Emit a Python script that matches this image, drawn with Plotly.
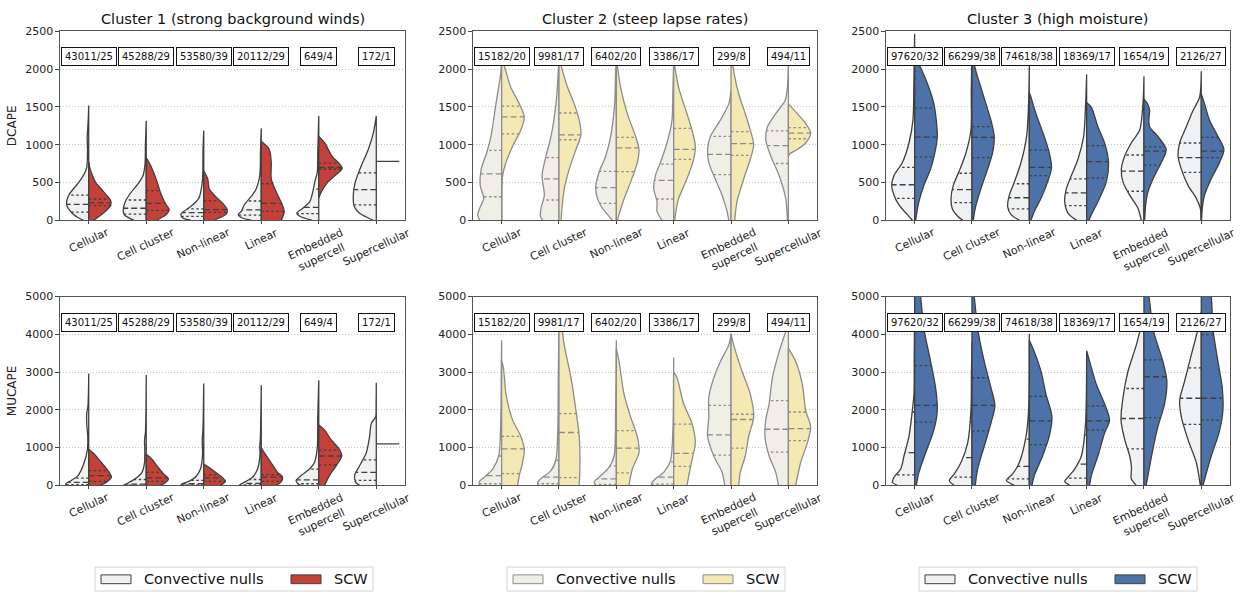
import plotly.graph_objects as go
import numpy as np

# ---------------- data ----------------
categories = ["Cellular", "Cell cluster", "Non-linear", "Linear", "Embedded<br>supercell", "Supercellular"]
titles = ["Cluster 1 (strong background winds)", "Cluster 2 (steep lapse rates)", "Cluster 3 (high moisture)"]
row_labels = ["DCAPE", "MUCAPE"]
legend_labels = ["Convective nulls", "SCW"]

counts_c1 = ["43011/25", "45288/29", "53580/39", "20112/29", "649/4", "172/1"]
counts_c2 = ["15182/20", "9981/17", "6402/20", "3386/17", "299/8", "494/11"]
counts_c3 = ["97620/32", "66299/38", "74618/38", "18369/17", "1654/19", "2126/27"]

# density profiles: (value, relative half-width, 23 = full half width)
dcape_c1_null = [
    [(0,5),(30,10),(100,17),(200,22),(330,20),(500,10),(600,5),(700,2),(900,1.2),(1100,1.5),(1300,0.6),(1520,0)],
    [(0,12),(22,16),(74,22),(138,23),(246,21),(354,16),(505,7),(600,3),(750,1.2),(1000,0.8),(1317,0)],
    [(0,13),(30,21),(74,23),(117,20),(181,13),(289,5),(450,2),(600,1),(900,0.8),(1187,0)],
    [(0,10),(30,19),(74,23),(117,20),(203,17),(332,9),(418,5),(550,2),(677,1),(900,0.8),(1217,0)],
    [(0,7),(52,19),(95,22),(159,16),(246,9),(375,6),(505,4),(635,1.5),(900,1),(1381,0)],
    [(0,3),(30,8),(95,17),(181,22),(332,23),(505,21),(721,15),(937,8),(1153,3),(1381,0)],
]
dcape_c1_scw = [
    [(0,5),(100,15),(195,22),(260,22),(375,15),(500,7),(600,3.5),(700,1),(780,0)],
    [(0,12),(9,12),(74,20),(138,23),(224,19),(375,14),(505,11),(721,4.5),(829,0)],
    [(0,12),(9,12),(74,22),(138,23.5),(224,19),(311,12),(418,5.5),(548,4),(656,0)],
    [(0,20),(30,21),(117,23),(203,21),(375,15),(548,10),(764,10),(937,8),(1045,0)],
    [(300,0),(375,2.5),(505,9),(613,18),(686,23.5),(742,21),(851,13),(1023,6),(1110,0)],
    780,
]
dcape_c1_null_q = [(107,211,332),(82,159,268),(52,100,150),(69,138,255),(87,170,412),(203,406,626)]
dcape_c1_scw_q = [(194,229,281),(130,224,392),(105,140,260),(117,224,483),(675,698,755),None]

dcape_c2_null = [
    [(0,22),(74,24),(159,22),(289,18),(462,21.5),(677,20.5),(894,15),(1110,10.7),(1541,5.7),(1972,0.7),(2170,0)],
    [(0,16.3),(52,18.7),(159,18),(332,14.7),(592,17),(851,13),(1110,8),(1541,3),(1900,1),(2170,0)],
    [(0,4),(52,7.3),(159,14),(289,19),(440,20.7),(635,17.3),(851,10.7),(1110,5.7),(1541,1.7),(1900,0.8),(2170,0)],
    [(0,11.7),(30,13.3),(117,16.7),(246,16.7),(418,20),(592,18.3),(764,13.3),(1023,6.7),(1325,1.7),(1700,0.8),(2130,0)],
    [(0,2.3),(117,4),(332,9),(592,17.3),(764,22.3),(937,23.5),(1110,20.7),(1325,10.7),(1541,2.3),(1714,0)],
    [(0,1),(289,2.7),(592,9.3),(851,17.7),(1066,22.7),(1239,21),(1411,12.7),(1584,3.3),(1757,1),(2102,0)],
]
dcape_c2_scw = [
    [(0,0.3),(400,0.3),(592,1),(764,4.3),(980,11),(1195,19.3),(1368,22.7),(1541,17.7),(1757,9.3),(1972,4.3),(2170,0)],
    [(0,2),(159,3),(418,5.3),(677,10.3),(937,17),(1131,22),(1325,20.3),(1541,15.3),(1757,8.7),(1972,3.7),(2160,0)],
    [(0,1),(74,2.7),(246,6.7),(505,14.3),(764,21),(937,22.7),(1110,19.3),(1411,11),(1757,4.3),(2000,1.5),(2170,0)],
    [(0,1),(74,1.7),(289,5),(548,13.3),(807,20),(980,21.7),(1195,18.3),(1411,13.3),(1757,5),(2000,1.5),(2120,0)],
    [(0,3.7),(246,6),(548,12.7),(807,19.3),(1001,22.7),(1195,19.3),(1411,14.3),(1671,7.7),(1972,2.7),(2250,0)],
    [(842,0),(880,1.3),(937,9),(1023,17.3),(1153,22.3),(1282,17.3),(1411,9),(1541,0)],
]
dcape_c2_null_q = [(311,613,924),(268,548,829),(224,431,648),(281,527,742),(605,872,1110),(751,988,1182)]
dcape_c2_scw_q = [(1144,1368,1511),(1066,1131,1420),(643,958,1096),(807,937,1217),(859,1014,1174),(1079,1153,1226)]

dcape_c3_null = [
    [(0,2.3),(74,7.3),(203,15.7),(332,20.7),(462,23),(592,20.7),(764,12.3),(1023,5.7),(1325,1.7),(1800,0.8),(2470,0)],
    [(0,9.3),(52,14.3),(138,19.3),(289,21),(462,18.7),(677,12),(894,6),(1195,1),(1700,0.7),(2250,0)],
    [(0,10),(74,18.3),(181,21.7),(332,20),(505,15),(764,8.3),(1110,2.7),(1541,0.7),(2067,0)],
    [(0,10.3),(95,18.7),(246,22),(418,20.3),(592,15.3),(807,8.7),(1110,3),(1541,1),(1929,0)],
    [(0,2.7),(159,6),(332,14.3),(505,21),(677,22.7),(851,19.3),(1023,12.7),(1195,4.3),(1541,1),(1907,0)],
    [(0,0.3),(159,1),(289,5),(462,13.3),(677,20),(851,23.3),(1023,21.7),(1239,15),(1454,8.3),(1628,1.7),(1972,0)],
]
dcape_c3_scw = [
    [(0,1),(246,4.3),(462,9.3),(677,16),(894,20.3),(1110,22.7),(1325,21.7),(1541,19.3),(1757,14.3),(1972,7.7),(2145,1.7),(2250,0)],
    [(0,1.3),(159,3.3),(418,9),(677,15.7),(894,20.7),(1110,22.3),(1325,19),(1541,14),(1757,9),(1972,4),(2200,0)],
    [(0,1.7),(117,5),(289,11.7),(505,18.3),(699,22.3),(894,20),(1110,15),(1411,6.7),(1628,1.7),(1692,0)],
    [(0,2.3),(74,4.7),(246,11.3),(505,19.7),(764,22),(1023,18),(1239,11.3),(1498,4.7),(1560,0)],
    [(0,0.7),(200,1.7),(375,4),(592,10.7),(807,19),(937,22.3),(1110,14),(1239,5.7),(1350,5),(1454,5.7),(1530,4),(1606,0)],
    [(0,0.3),(159,1),(332,3.3),(548,10),(764,18.3),(937,22.7),(1110,16.7),(1325,8.3),(1541,3.3),(1671,0)],
]
dcape_c3_null_q = [(289,470,699),(233,406,622),(151,298,483),(194,363,548),(384,651,864),(635,829,1023)]
dcape_c3_scw_q = [(838,1101,1485),(829,1096,1239),(592,699,928),(557,777,988),(729,915,971),(829,915,1096)]

mucape_c1_null = [
    [(0,23),(43,23),(130,17.3),(259,10.7),(518,5.7),(950,1.3),(1300,1),(1640,2),(1900,2),(2100,0.8),(2962,0)],
    [(0,22.7),(69,17.7),(173,11),(345,4.3),(604,1.7),(1000,1.5),(1209,1.7),(1400,0.8),(2919,0)],
    [(0,23),(35,21.7),(104,15),(216,8.3),(432,3.3),(800,1.2),(1200,1.5),(1500,0.8),(2700,0)],
    [(0,22),(35,20.3),(104,15.3),(216,8.7),(432,3.7),(800,1.3),(1036,1.5),(1200,1),(2650,0)],
    [(0,17.7),(43,21),(130,22.7),(259,17.7),(432,9.3),(604,4.3),(1000,1.5),(1813,1),(2780,0)],
    [(0,16.7),(86,20.7),(259,21.7),(518,16.7),(864,10),(1295,6.7),(1641,5),(1813,0.7),(2159,0.2),(2720,0)],
]
mucape_c1_scw = [
    [(0,11),(86,17.7),(216,22.7),(389,19.3),(604,12.7),(863,4.3),(950,0)],
    [(0,14),(69,19),(173,22.3),(302,17.3),(518,10.7),(691,5.7),(820,0)],
    [(0,16.7),(104,21.7),(216,18.3),(345,11.7),(475,5),(561,0)],
    [(0,14.7),(86,19.7),(216,21.3),(345,16.3),(604,9.7),(864,3),(993,0)],
    [(0,5.7),(259,10.7),(518,17.3),(777,23),(950,20.7),(1209,12.3),(1468,5.7),(1598,0)],
    1100,
]
mucape_c1_null_q = [(17,80,190),(5,35,155),(9,43,130),(9,52,155),(43,147,432),(130,345,674)]
mucape_c1_scw_q = [(104,259,389),(104,199,345),(104,199,276),(104,216,285),(544,777,933),None]

mucape_c2_null = [
    [(0,22.3),(104,22.3),(216,17.3),(432,9),(777,3),(1986,0.7),(3000,0.4),(3843,0)],
    [(0,21.3),(86,21.3),(216,16.3),(389,8),(691,3),(1500,1.2),(2850,0.7),(4400,0)],
    [(0,20.7),(86,22.3),(216,17.3),(475,7.3),(777,2.3),(1986,0.7),(3843,0)],
    [(0,21.7),(43,22.3),(173,18.3),(345,10),(648,3.3),(1554,0.7),(3385,0)],
    [(0,6.3),(345,9),(777,17.3),(1295,23.5),(1813,22.3),(2332,22.3),(2850,17.3),(3282,10.7),(3713,2.3),(4016,0)],
    [(0,10),(345,12.7),(777,19.3),(1295,23.5),(1727,22.7),(2159,19.3),(2850,16),(3540,9.3),(4231,1),(4500,0)],
]
mucape_c2_scw = [
    [(0,16),(259,17.7),(604,21),(950,22.7),(1295,19.3),(1727,11),(2418,4.3),(2800,3),(3150,1.5),(3300,0)],
    [(0,20.3),(604,21),(1295,20.3),(1986,17),(2850,12),(3713,5.3),(4318,2),(4500,0)],
    [(0,12.7),(432,16),(864,22.7),(1295,21),(1813,14.3),(2418,7.7),(3282,2.7),(3627,0)],
    [(0,13.3),(604,17.7),(1123,21.7),(1641,18.3),(2159,10),(2850,3.3),(3000,0)],
    [(0,7.7),(345,9.3),(777,14.3),(1295,17.7),(1813,22.7),(2418,19.3),(3022,11),(3713,2.7),(4016,0)],
    [(0,7.3),(604,12.3),(1123,19),(1554,22.3),(1986,17.3),(2677,14),(3282,7.3),(3627,0)],
]
mucape_c2_null_q = [(43,259,777),(43,216,665),(26,173,518),(35,216,622),(803,1339,2116),(881,1485,2245)]
mucape_c2_scw_q = [(311,967,1295),(207,1399,1900),(328,984,1451),(501,846,1623),(984,1744,1883),(1183,1503,1943)]

mucape_c3_null = [
    [(0,17.3),(86,22.3),(216,20.7),(432,14),(777,10.7),(1295,5.7),(1986,2.3),(2418,0.7),(3500,0.4),(4500,0)],
    [(0,17.7),(130,22.7),(302,17.7),(604,11),(1123,4.3),(1986,1),(3000,0.5),(3800,0)],
    [(0,15),(130,23),(302,16.7),(604,10),(1295,3.3),(1986,0.7),(4016,0)],
    [(0,17),(104,22),(216,18.7),(432,12),(777,5.3),(1554,1.3),(3540,0)],
    [(0,7.7),(173,12.7),(475,12.5),(777,14.3),(1209,19.3),(1727,23),(2332,21),(3022,16),(3713,7.7),(4231,2.7),(4500,0)],
    [(0,1),(604,5),(1209,13.3),(1813,20),(2245,21.7),(2763,16.7),(3454,10),(4145,3.3),(4600,0)],
]
mucape_c3_scw = [
    [(0,1.7),(345,4.3),(864,11),(1468,19.3),(1986,22.7),(2591,21),(3282,16),(4145,9.3),(5000,6),(5600,3),(6000,0)],
    [(0,3.3),(432,5.7),(1036,12.3),(1641,19),(2116,23),(2591,19),(3282,12.3),(4145,5.7),(5000,2.3),(5400,0)],
    [(0,2.7),(259,5),(777,13.3),(1295,20),(1813,22.7),(2418,16.7),(3022,11.7),(3540,5),(3843,0)],
    [(0,3),(259,4.7),(777,11.3),(1382,18),(1727,23),(2159,18),(2677,9.7),(3282,3),(3558,0)],
    [(0,2.3),(864,8.3),(1554,14),(2159,20.7),(2763,23),(3282,19),(4145,9),(5000,5),(5500,0)],
    [(0,1.7),(777,10),(1382,17.7),(1986,21.7),(2591,21),(3282,16.7),(4145,11.7),(5000,10),(5600,5),(6200,0)],
]
mucape_c3_null_q = [(276,864,1943),(216,734,1684),(173,501,1226),(190,561,1339),(967,1770,2565),(1615,2306,3109)]
mucape_c3_scw_q = [(1675,2116,3169),(1442,2116,2850),(1079,1710,2358),(1468,1710,2107),(1796,2876,3325),(1727,2306,3990)]

# ---------------- styling ----------------
FONT = "DejaVu Sans"
null_fill = ["#f1f1f1", "#f0efe7", "#f0f1f2"]
scw_fill = ["#c4413a", "#f4e9b3", "#4c72a8"]
edge_col = ["#3f3f3f", "#8c8c8c", "#3f3f3f"]
HALF = 0.4 / 23.0
W, H = 1244.0, 599.0

x_dom = [(0.0482, 0.3256), (0.3802, 0.6568), (0.7122, 0.9887)]
y_dom = [(0.6344, 0.9566), (0.1820, 0.5042)]
legend_left_px = [95, 507, 919]

panels = [
    (0, 0, dcape_c1_null, dcape_c1_scw, dcape_c1_null_q, dcape_c1_scw_q, counts_c1, 2500),
    (0, 1, dcape_c2_null, dcape_c2_scw, dcape_c2_null_q, dcape_c2_scw_q, counts_c2, 2500),
    (0, 2, dcape_c3_null, dcape_c3_scw, dcape_c3_null_q, dcape_c3_scw_q, counts_c3, 2500),
    (1, 0, mucape_c1_null, mucape_c1_scw, mucape_c1_null_q, mucape_c1_scw_q, counts_c1, 5000),
    (1, 1, mucape_c2_null, mucape_c2_scw, mucape_c2_null_q, mucape_c2_scw_q, counts_c2, 5000),
    (1, 2, mucape_c3_null, mucape_c3_scw, mucape_c3_null_q, mucape_c3_scw_q, counts_c3, 5000),
]

fig = go.Figure()
annotations = []
shapes = []
layout = {}


def half_trace(c, prof, sign, fill, edge, xa, ya):
    ys = [p[0] for p in prof]
    ws = [p[1] * HALF for p in prof]
    xs = [c + sign * w for w in ws] + [c] * len(ys)
    yy = ys + ys[::-1]
    return go.Scatter(x=xs, y=yy, mode="lines", fill="toself", fillcolor=fill,
                      line=dict(color=edge, width=1.3, shape="spline", smoothing=0.8),
                      xaxis=xa, yaxis=ya, hoverinfo="skip", showlegend=False)


def qlines(c, prof, sign, qs, edge, xa, ya):
    ys = np.array([p[0] for p in prof], dtype=float)
    ws = np.array([p[1] * HALF for p in prof], dtype=float)
    out = []
    for j, q in enumerate(qs):
        w = float(np.interp(q, ys, ws))
        dash = "6px,3px" if j == 1 else "2.5px,2.5px"
        out.append(go.Scatter(x=[c, c + sign * w], y=[q, q], mode="lines",
                              line=dict(color=edge, width=1.3, dash=dash),
                              xaxis=xa, yaxis=ya, hoverinfo="skip", showlegend=False))
    return out


for k, (r, col, nulls, scws, nq, sq, counts, ymax) in enumerate(panels):
    xa = "x" if k == 0 else f"x{k+1}"
    ya = "y" if k == 0 else f"y{k+1}"
    for i in range(6):
        fig.add_trace(half_trace(i, nulls[i], -1, null_fill[col], edge_col[col], xa, ya))
        for t in qlines(i, nulls[i], -1, nq[i], edge_col[col], xa, ya):
            fig.add_trace(t)
        if isinstance(scws[i], (int, float)):
            fig.add_trace(go.Scatter(x=[i, i + 0.4], y=[scws[i], scws[i]], mode="lines",
                                     line=dict(color=edge_col[col], width=1.3),
                                     xaxis=xa, yaxis=ya, hoverinfo="skip", showlegend=False))
        else:
            fig.add_trace(half_trace(i, scws[i], 1, scw_fill[col], edge_col[col], xa, ya))
            for t in qlines(i, scws[i], 1, sq[i], edge_col[col], xa, ya):
                fig.add_trace(t)
        annotations.append(dict(x=i, y=0.915, xref=xa, yref=f"{ya} domain", text=counts[i],
                                showarrow=False, font=dict(family=FONT, size=10, color="#111"),
                                bgcolor="white", bordercolor="#111", borderwidth=1, borderpad=3))
        annotations.append(dict(x=i, y=0, xref=xa, yref=f"{ya} domain", text=categories[i],
                                showarrow=False, textangle=-25, yanchor="top", xanchor="center",
                                yshift=-3, font=dict(family=FONT, size=11, color="#222")))
    if r == 0:
        annotations.append(dict(x=0.5, y=1, xref=f"{xa} domain", yref=f"{ya} domain", text=titles[col],
                                showarrow=False, yanchor="bottom", yshift=2,
                                font=dict(family=FONT, size=14.5, color="#111")))
    axkey = "xaxis" if k == 0 else f"xaxis{k+1}"
    aykey = "yaxis" if k == 0 else f"yaxis{k+1}"
    layout[axkey] = dict(domain=list(x_dom[col]), anchor=ya, range=[-0.5, 5.5],
                         tickvals=list(range(6)), showticklabels=False, ticks="outside", ticklen=3,
                         tickcolor="#444", showgrid=False, zeroline=False, showline=True, mirror=True,
                         linecolor="#555", linewidth=1)
    layout[aykey] = dict(domain=list(y_dom[r]), anchor=xa, range=[0, ymax], dtick=ymax / 5,
                         ticks="outside", ticklen=3.5, tickcolor="#444",
                         tickfont=dict(family=FONT, size=11, color="#222"),
                         showgrid=True, gridcolor="#c4c4c4", griddash="1px,2px", gridwidth=1,
                         zeroline=False, showline=True, mirror=True, linecolor="#555", linewidth=1)
    if col == 0:
        layout[aykey]["title"] = dict(text=row_labels[r], font=dict(family=FONT, size=12, color="#222"),
                                      standoff=6)

# ---------------- legends (one per cluster, drawn as boxes + text) ----------------
def px_x(v):
    return v / W


def px_y(v):
    return 1 - v / H


for col in range(3):
    L = legend_left_px[col]
    shapes.append(dict(type="rect", xref="paper", yref="paper",
                       x0=px_x(L), x1=px_x(L + 278), y0=px_y(598), y1=px_y(573.5),
                       line=dict(color="#d4d4d4", width=1), fillcolor="white", layer="above"))
    for j, (off, fill) in enumerate([(6, null_fill[col]), (196, scw_fill[col])]):
        shapes.append(dict(type="rect", xref="paper", yref="paper",
                           x0=px_x(L + off), x1=px_x(L + off + 30), y0=px_y(590.5), y1=px_y(581.5),
                           line=dict(color=edge_col[col], width=1), fillcolor=fill, layer="above"))
        annotations.append(dict(x=px_x(L + off + 41), y=px_y(586), xref="paper", yref="paper",
                                text=legend_labels[j], showarrow=False, xanchor="left", yanchor="middle",
                                font=dict(family=FONT, size=14.5, color="#111")))

fig.update_layout(width=1244, height=599, margin=dict(l=0, r=0, t=0, b=0),
                  paper_bgcolor="white", plot_bgcolor="white", showlegend=False,
                  font=dict(family=FONT, color="#222"), annotations=annotations, shapes=shapes, **layout)

fig.write_html("out.html")
